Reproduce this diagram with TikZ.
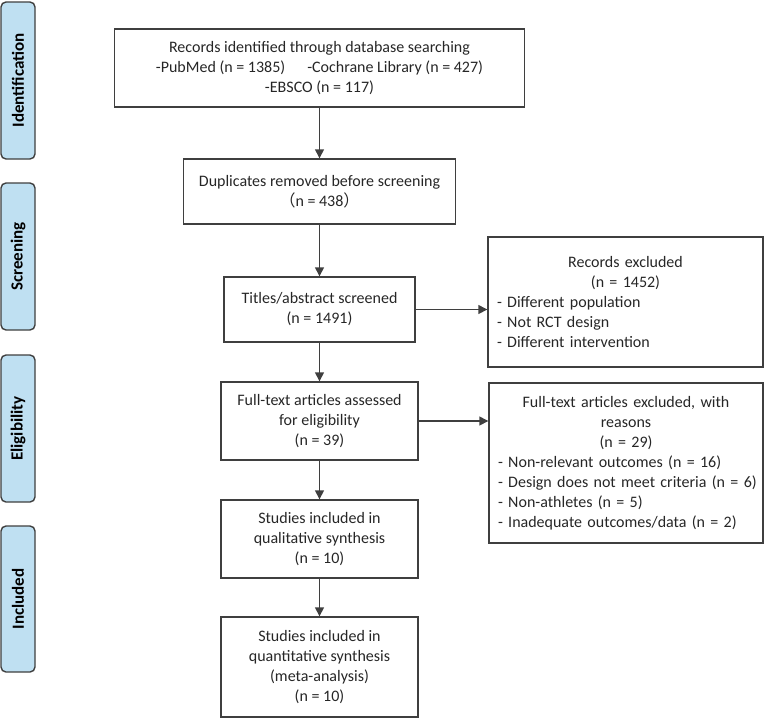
\documentclass[tikz,border=0pt]{standalone}
\usepackage{fontspec}
\setmainfont{Carlito}
\newfontfamily\cjk{Noto Sans CJK SC}
\usetikzlibrary{arrows.meta}
\definecolor{barfill}{HTML}{BFE0F2}
\definecolor{edgecol}{HTML}{3F3F3F}
\definecolor{txtcol}{HTML}{262626}
\begin{document}
\begin{tikzpicture}[x=1pt,y=-1pt,
  box/.style={draw=edgecol, line width=1.4pt, align=center, text=txtcol,
    font=\fontsize{16}{20}\selectfont, inner sep=0pt},
  phase/.style={draw=edgecol, fill=barfill, rounded corners=5pt, line width=1.4pt,
    text=black, font=\bfseries\fontsize{17}{18}\selectfont, rotate=90, inner sep=0pt},
  arr/.style={draw=edgecol, line width=1.4pt, -{Triangle[length=9pt,width=9pt]}}]
\useasboundingbox (0,0) rectangle (767,723);

% phase bars
\node[phase, minimum width=157, minimum height=34] (ph1) at (18,80.5) {Identification};
\node[phase, minimum width=147, minimum height=34] (ph2) at (18,256.5) {Screening};
\node[phase, minimum width=147, minimum height=34] (ph3) at (18,428.5) {Eligibility};
\node[phase, minimum width=146, minimum height=34] (ph4) at (18,599) {Included};

% main column
\node[box, minimum width=410, minimum height=78] (b1) at (319.5,68)
  {Records identified through database searching\\
   -PubMed (n = 1385)\hspace{22pt}-Cochrane Library (n = 427)\\
   -EBSCO (n = 117)};
\node[box, minimum width=272, minimum height=65] (b2) at (319.5,191.5)
  {Duplicates removed before screening\\
   {\cjk （}n = 438{\cjk ）}};
\node[box, minimum width=191, minimum height=65] (b3) at (319.5,309.5)
  {Titles/abstract screened\\(n = 1491)};
\node[box, minimum width=197, minimum height=78] (b4) at (319.5,421)
  {Full-text articles assessed\\for eligibility\\(n = 39)};
\node[box, minimum width=197, minimum height=78] (b5) at (319.5,539)
  {Studies included in\\qualitative synthesis\\(n = 10)};
\node[box, minimum width=197, minimum height=100] (b6) at (319.5,667)
  {Studies included in\\quantitative synthesis\\(meta-analysis)\\(n = 10)};

% exclusion boxes
\node[box, align=left, text width=257, minimum width=275, minimum height=130] (rex) at (625.5,302)
  {\centering Records excluded\\(n = 1452)\par
   \raggedright \mbox{- Different population}\\\mbox{- Not RCT design}\\\mbox{- Different intervention}\par};
\node[box, align=left, text width=256, minimum width=274, minimum height=160] (fex) at (626,463)
  {\centering Full-text articles excluded, with\\reasons\\(n = 29)\par
   \raggedright \mbox{- Non-relevant outcomes (n = 16)}\\\mbox{- Design does not meet criteria (n = 6)}\\
   \mbox{- Non-athletes (n = 5)}\\\mbox{- Inadequate outcomes/data (n = 2)}\par};

% connectors
\draw[arr] (b1) -- (b2);
\draw[arr] (b2) -- (b3);
\draw[arr] (b3) -- (b4);
\draw[arr] (b4) -- (b5);
\draw[arr] (b5) -- (b6);
\draw[arr] (b3) -- (b3 -| rex.west);
\draw[arr] (b4) -- (b4 -| fex.west);
\end{tikzpicture}
\end{document}
